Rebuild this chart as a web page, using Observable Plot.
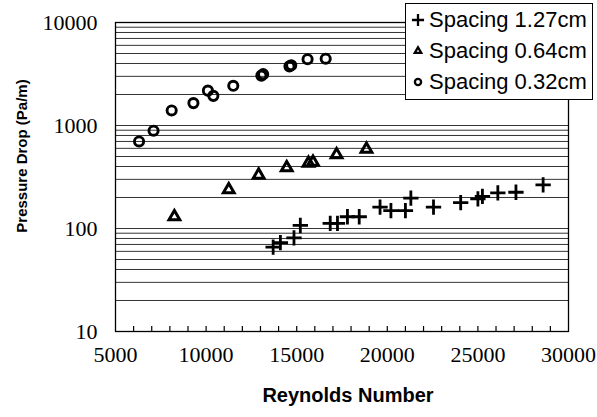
<!DOCTYPE html>
<html>
<head>
<meta charset="utf-8">
<script src="https://cdn.jsdelivr.net/npm/d3@7"></script>
<script src="https://cdn.jsdelivr.net/npm/@observablehq/plot@0.6"></script>
<style>
  body { margin: 0; background: #fff; }
  #wrap { position: relative; width: 597px; height: 417px; background: #fff; }
  #legend { position: absolute; left: 405px; top: 3px; width: 188px; height: 97px; border: 1.5px solid #000; background: #fff;
            font-family: "Liberation Sans", Arial, sans-serif; font-size: 22px; color: #000; box-sizing: border-box; padding: 0 0 0 5px; }
  #legend .row { display: flex; align-items: center; height: 31.3px; white-space: nowrap; }
  #legend svg { margin-right: 4px; flex: none; }
</style>
</head>
<body>
<div id="wrap"></div>
<script>
// ---- data ----
const seriesNames = ["Spacing 1.27cm", "Spacing 0.64cm", "Spacing 0.32cm"];
const seriesSymbols = ["plus", "triangle", "circle"];

// Spacing 1.27cm (crosses)
const re127 = [13700, 14100, 14850, 15200, 16850, 17250, 17800, 18450, 19600, 20200, 21000, 21300, 22550, 24050, 25000, 25250, 26100, 27100, 28600];
const dp127 = [66, 73, 81, 107, 112, 112, 130, 130, 161, 149, 149, 197, 161, 178, 194, 205, 222, 225, 265];

// Spacing 0.64cm (triangles)
const re064 = [8250, 11250, 12900, 14450, 15650, 15900, 17200, 18850];
const dp064 = [130, 238, 330, 390, 430, 440, 520, 590];

// Spacing 0.32cm (circles)
const re032 = [6300, 7100, 8100, 9300, 10100, 10400, 11500, 13050, 13150, 14600, 14700, 15600, 16600];
const dp032 = [700, 890, 1400, 1650, 2180, 1940, 2430, 3050, 3150, 3750, 3850, 4400, 4450];

const xTicks = [5000, 10000, 15000, 20000, 25000, 30000];
const yTicks = [10, 100, 1000, 10000];
const xTitle = "Reynolds Number";
const yTitle = "Pressure Drop (Pa/m)";

// ---- build ----
const toRows = (re, dp) => re.map((r, i) => ({re: r, dp: dp[i]}));
const rows127 = toRows(re127, dp127);
const rows064 = toRows(re064, dp064);
const rows032 = toRows(re032, dp032);

const gridVals = d3.scaleLog().domain([10, 10000]).ticks();
const minorX = d3.range(6000, 30000, 1000);

const chart = Plot.plot({
  width: 597,
  height: 417,
  marginTop: 22,
  marginRight: 29,
  marginBottom: 86,
  marginLeft: 115,
  style: {background: "#fff", color: "#000", fontFamily: "Liberation Serif, Times New Roman, serif"},
  x: {domain: [5000, 30000]},
  y: {type: "log", domain: [10, 10000]},
  marks: [
    Plot.ruleY(gridVals, {stroke: "#111", strokeWidth: 1, strokeOpacity: 0.85}),
    Plot.frame({stroke: "#000", strokeWidth: 1.3}),
    Plot.axisX({ticks: minorX, tickSize: -5, tickFormat: () => "", label: null, strokeWidth: 1.2}),
    Plot.axisX({ticks: xTicks, tickSize: 0, tickPadding: 15, tickFormat: d => String(d), label: null,
                fontSize: 22, fontFamily: "Liberation Serif, serif"}),
    Plot.axisY({ticks: yTicks, tickSize: 0, tickPadding: 18, tickFormat: d => String(d), label: null,
                fontSize: 22, fontFamily: "Liberation Serif, serif"}),
    Plot.text([xTitle], {frameAnchor: "bottom", dx: 6, dy: 70, fontSize: 20, fontWeight: "bold",
                fontFamily: "Liberation Sans, Arial, sans-serif"}),
    Plot.text([yTitle], {frameAnchor: "left", textAnchor: "middle", rotate: -90, dx: -93, dy: -21, fontSize: 15, fontWeight: "bold",
                fontFamily: "Liberation Sans, Arial, sans-serif"}),
    Plot.dot(rows127, {x: "re", y: "dp", symbol: seriesSymbols[0], r: 5, stroke: "#000", strokeWidth: 2.8}),
    Plot.dot(rows064, {x: "re", y: "dp", symbol: seriesSymbols[1], r: 4, stroke: "#000", strokeWidth: 3}),
    Plot.dot(rows032, {x: "re", y: "dp", symbol: seriesSymbols[2], r: 4.6, stroke: "#000", strokeWidth: 2.9, fill: "none"})
  ]
});

const wrap = document.getElementById("wrap");
wrap.appendChild(chart);

// legend
const legend = document.createElement("div");
legend.id = "legend";
const symMap = {plus: d3.symbolPlus, triangle: d3.symbolTriangle2, circle: d3.symbolCircle};
const symSize = {plus: 50, triangle: 30, circle: 30};
seriesNames.forEach((name, i) => {
  const row = document.createElement("div");
  row.className = "row";
  const svg = d3.create("svg").attr("width", 14).attr("height", 14);
  svg.append("path")
    .attr("transform", "translate(7,7)")
    .attr("d", d3.symbol(symMap[seriesSymbols[i]], symSize[seriesSymbols[i]])())
    .attr("fill", "none").attr("stroke", "#000").attr("stroke-width", 2.3);
  row.appendChild(svg.node());
  const span = document.createElement("span");
  span.textContent = name;
  row.appendChild(span);
  legend.appendChild(row);
});
wrap.appendChild(legend);
</script>
</body>
</html>
